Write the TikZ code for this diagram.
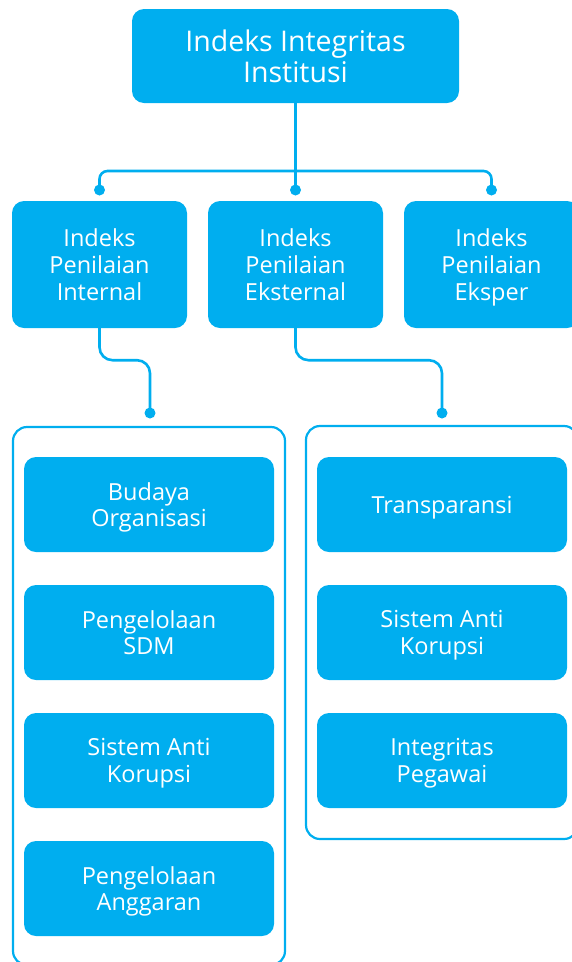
\documentclass[tikz,border=0pt]{standalone}
\usepackage{fontspec}
\setmainfont{Open Sans}
\usepackage{xcolor}
\usepackage{tikz}
\usetikzlibrary{arrows.meta,positioning}
\definecolor{sky}{HTML}{00AEEF}

\begin{document}
\begin{tikzpicture}[x=1pt,y=-1pt,
  tile/.style={fill=sky,text=white,rounded corners=12pt,align=center,inner sep=0pt,text depth=0pt,font=\fontsize{23.5}{26.8}\selectfont},
  frame/.style={draw=sky,line width=2.2pt,rounded corners=14pt,inner sep=0pt},
  link/.style={draw=sky,line width=2.6pt},
  knob/.style={circle,fill=sky,inner sep=0pt,minimum size=11pt}]
\useasboundingbox (0,0) rectangle (571,962);
% top
\node[tile,minimum width=327pt,minimum height=94pt,text depth=-3pt,font=\fontsize{28.5}{31}\selectfont] (root) at (295.5,56) {Indeks Integritas\\Institusi};
% three indices
\node[tile,minimum width=175pt,minimum height=127pt] (ipi) at (99.5,264.5) {Indeks\\Penilaian\\Internal};
\node[tile,minimum width=175pt,minimum height=127pt] (ipe) at (295.5,264.5) {Indeks\\Penilaian\\Eksternal};
\node[tile,minimum width=175pt,minimum height=127pt] (ipx) at (491.5,264.5) {Indeks\\Penilaian\\Eksper};
\node[knob] (kA) at (ipi.north |- 0,190) {};
\node[knob] (kB) at (ipe.north |- 0,190) {};
\node[knob] (kC) at (ipx.north |- 0,190) {};
\coordinate (bar) at (295.5,171);
\draw[link] (root.south) -- (kB.center);
\draw[link,rounded corners=8pt] (kA.center) |- (bar) -| (kC.center);
% containers
\node[frame,minimum width=272pt,minimum height=538pt] (boxL) at (149,696) {};
\node[frame,minimum width=272pt,minimum height=413pt] (boxR) at (442,632.5) {};
\node[knob] (kL) at (150,413) {};
\node[knob] (kR) at (442,413) {};
\draw[link,rounded corners=13pt] (ipi.south) -- ++(0,32) -| (kL.center);
\draw[link,rounded corners=13pt] (ipe.south) -- ++(0,32) -| (kR.center);
% internal items
\node[tile,minimum width=250pt,minimum height=95pt] (bo) at (149,504.5) {Budaya\\Organisasi};
\node[tile,minimum width=250pt,minimum height=95pt] (sdm) at (149,632.5) {Pengelolaan\\SDM};
\node[tile,minimum width=250pt,minimum height=95pt] (sakL) at (149,760.5) {Sistem Anti\\Korupsi};
\node[tile,minimum width=250pt,minimum height=95pt] (pa) at (149,888.5) {Pengelolaan\\Anggaran};
% external items
\node[tile,minimum width=250pt,minimum height=95pt] (tr) at (442,504.5) {Transparansi};
\node[tile,minimum width=250pt,minimum height=95pt] (sakR) at (442,632.5) {Sistem Anti\\Korupsi};
\node[tile,minimum width=250pt,minimum height=95pt] (ip) at (442,760.5) {Integritas\\Pegawai};
\end{tikzpicture}
\end{document}
